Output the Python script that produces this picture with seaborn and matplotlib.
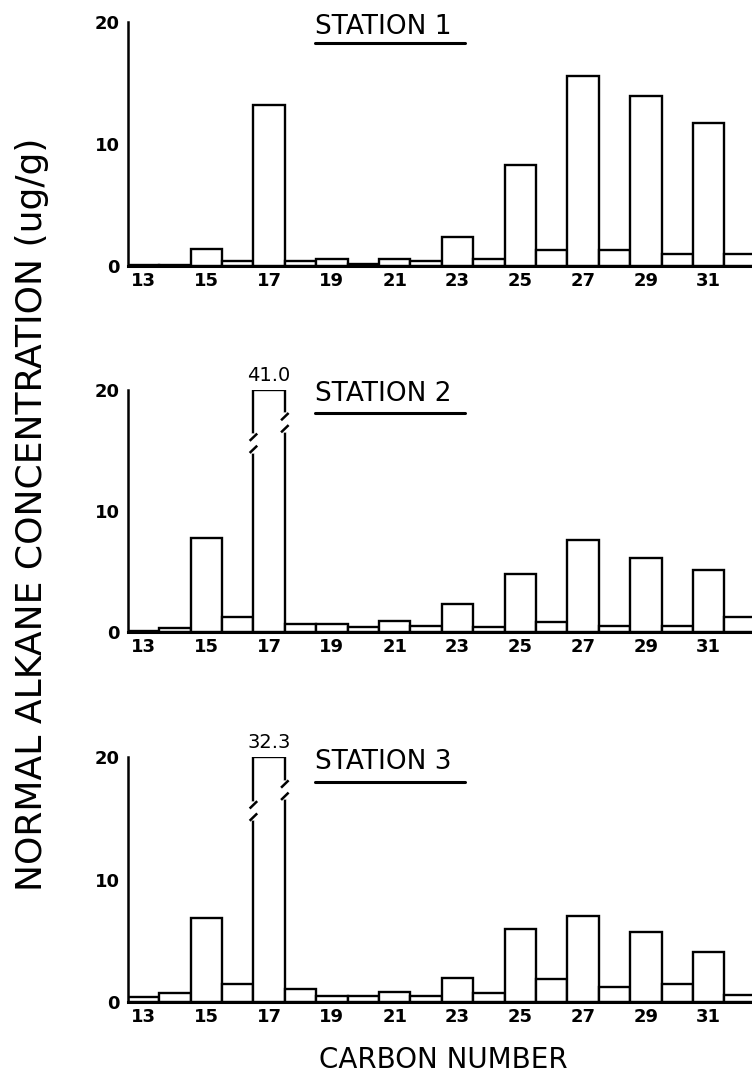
import numpy as np
import pandas as pd
import matplotlib
matplotlib.use('Agg')
import matplotlib.pyplot as plt
import seaborn as sns

# ---- data (ug/g), carbon numbers 13..32 ----
carbon = list(range(13, 33))
station1 = [0.1, 0.1, 1.4, 0.4, 13.2, 0.4, 0.6, 0.2, 0.6, 0.4,
            2.35, 0.6, 8.3, 1.35, 15.6, 1.35, 13.9, 0.95, 11.7, 0.95]
station2 = [0.05, 0.35, 7.8, 1.2, 41.0, 0.7, 0.7, 0.4, 0.9, 0.5,
            2.3, 0.45, 4.8, 0.85, 7.6, 0.5, 6.1, 0.5, 5.1, 1.2]
station3 = [0.45, 0.7, 6.85, 1.45, 32.3, 1.05, 0.5, 0.5, 0.8, 0.5,
            1.95, 0.75, 5.95, 1.9, 7.05, 1.25, 5.7, 1.45, 4.05, 0.55]
stations = ['STATION 1', 'STATION 2', 'STATION 3']
series = [station1, station2, station3]
tick_carbons = [13, 15, 17, 19, 21, 23, 25, 27, 29, 31]
ymax = 20

sns.set_style('white')
plt.rcParams['font.family'] = ['DejaVu Sans']
plt.rcParams.update({'text.color': 'black', 'axes.edgecolor': 'black',
                     'xtick.color': 'black', 'ytick.color': 'black',
                     'axes.labelcolor': 'black'})

fig = plt.figure(figsize=(7.52, 10.84), dpi=100)

# axes boxes in figure fractions (left, bottom, width, height)
boxes = [(0.170, 0.7546, 0.833, 0.2251),
         (0.170, 0.4170, 0.833, 0.2232),
         (0.170, 0.0756, 0.833, 0.2260)]
title_y = [19.6, 19.7, 19.6]
line_y = [18.3, 18.1, 18.0]

for k, (name, vals) in enumerate(zip(stations, series)):
    ax = fig.add_axes(boxes[k])
    df = pd.DataFrame({'carbon': carbon, 'conc': vals})
    df['shown'] = df['conc'].clip(upper=ymax)
    sns.barplot(data=df, x='carbon', y='shown', color='white', edgecolor='black',
                linewidth=1.7, width=1.0, saturation=1, ax=ax, order=carbon)

    ax.set_xlim(-0.5, 19.45)
    ax.set_ylim(0, ymax)
    ax.set_xlabel('')
    ax.set_ylabel('')
    for s in ['top', 'right']:
        ax.spines[s].set_visible(False)
    ax.spines['left'].set_linewidth(1.8)
    ax.spines['bottom'].set_linewidth(2.2)

    ax.set_xticks([carbon.index(c) for c in tick_carbons])
    ax.set_xticklabels([str(c) for c in tick_carbons], fontsize=13, fontweight='semibold')
    ax.tick_params(axis='x', length=0, pad=4)
    ax.set_yticks([0, 10, 20])
    ax.set_yticklabels(['0', '10', '20'], fontsize=13, fontweight='semibold')
    ax.tick_params(axis='y', length=4, width=1.2, direction='out', pad=2)

    # station title with underline
    ax.text(5.45, title_y[k], name, fontsize=19, ha='left', va='center', clip_on=False)
    ax.plot([5.45, 10.25], [line_y[k], line_y[k]], color='black', lw=2.2, clip_on=False)

    # broken bars (values above the axis maximum)
    for i, v in enumerate(vals):
        if v > ymax:
            ax.text(i, ymax + 0.4, f'{v:.1f}', ha='center', va='bottom', fontsize=14,
                    clip_on=False)
            for xe, yc in [(i - 0.5, 15.6), (i + 0.5, 17.3)]:
                ax.plot([xe, xe], [yc - 0.6, yc + 0.6], color='white', lw=4, zorder=5)
                for dy in (-0.5, 0.5):
                    ax.plot([xe - 0.12, xe + 0.12], [yc + dy - 0.3, yc + dy + 0.3],
                            color='black', lw=1.8, zorder=6, solid_capstyle='butt')

fig.text(0.042, 0.526, 'NORMAL ALKANE CONCENTRATION (ug/g)', rotation=90,
         ha='center', va='center', fontsize=26)
fig.text(0.59, 0.022, 'CARBON NUMBER', ha='center', va='center', fontsize=20)

fig.savefig('out.png', dpi=100)
